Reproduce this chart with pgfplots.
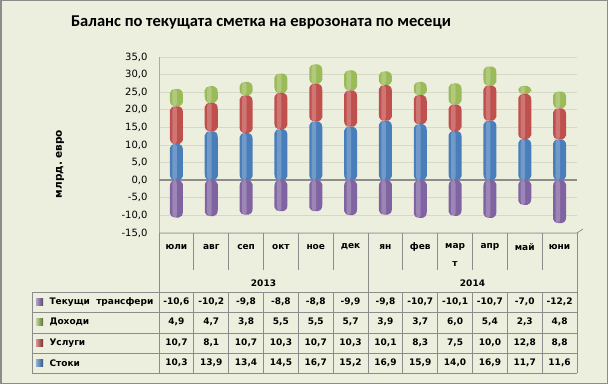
\documentclass[border=0pt]{standalone}
\usepackage{pgfplots}
\usepackage{pgfplotstable}
\pgfplotsset{compat=1.18}
\usepackage{fontspec}
\setmainfont{DejaVu Sans}
\newfontfamily\titlefont{Carlito}
\frenchspacing
\definecolor{bg}{RGB}{236,239,222}
\definecolor{gridc}{RGB}{214,216,200}
\definecolor{linec}{RGB}{140,140,140}
\definecolor{cB}{RGB}{74,126,187}
\definecolor{cR}{RGB}{192,80,77}
\definecolor{cG}{RGB}{155,187,89}
\definecolor{cP}{RGB}{128,100,162}
\pgfplotstableread{
x S U D T
0 10.3 10.7 4.9 -10.6
1 13.9 8.1 4.7 -10.2
2 13.4 10.7 3.8 -9.8
3 14.5 10.3 5.5 -8.8
4 16.7 10.7 5.5 -8.8
5 15.2 10.3 5.7 -9.9
6 16.9 10.1 3.9 -9.8
7 15.9 8.3 3.7 -10.7
8 14.0 7.5 6.0 -10.1
9 16.9 10.0 5.4 -10.7
10 11.7 12.8 2.3 -7.0
11 11.6 8.8 4.8 -12.2
}\data
\makeatletter
\newdimen\rcX \newdimen\rcY \newdimen\rcW \newdimen\rcH
\def\rcRx{0pt}\def\rcRy{0pt}
\def\pgfpathrectangle#1#2{%
  \pgf@process{#2}\rcW=\pgf@x\relax \rcH=\pgf@y\relax
  \pgf@process{#1}\rcX=\pgf@x\relax \rcY=\pgf@y\relax
  \let\rc@saved\pgf@corner@arc
  \ifdim\rcRx>0pt \pgfsetcornersarced{\pgfqpoint{\rcRx}{\rcRy}}\fi
  \pgfpathmoveto{\pgfqpoint{\dimexpr\rcX+0.5\rcW\relax}{\rcY}}%
  \pgfpathlineto{\pgfqpoint{\dimexpr\rcX+\rcW\relax}{\rcY}}%
  \pgfpathlineto{\pgfqpoint{\dimexpr\rcX+\rcW\relax}{\dimexpr\rcY+\rcH\relax}}%
  \pgfpathlineto{\pgfqpoint{\rcX}{\dimexpr\rcY+\rcH\relax}}%
  \pgfpathlineto{\pgfqpoint{\rcX}{\rcY}}%
  \pgfpathclose
  \let\pgf@corner@arc\rc@saved}
\newdimen\rcXb \newdimen\rcYb
\def\pgfpathrectanglecorners#1#2{%
  \pgf@process{#2}\rcXb=\pgf@x\relax \rcYb=\pgf@y\relax
  \pgf@process{#1}%
  \advance\rcXb by -\pgf@x \advance\rcYb by -\pgf@y
  \edef\rc@tmp{\noexpand\pgfpathrectangle{\noexpand\pgfqpoint{\the\pgf@x}{\the\pgf@y}}{\noexpand\pgfqpoint{\the\rcXb}{\the\rcYb}}}%
  \rc@tmp}
\makeatother
\pgfplotsset{
  base/.style={at={(159pt,151pt)}, anchor=south west, scale only axis,
    width=418pt, height=176pt, xmin=-0.5, xmax=11.5, ymin=-15, ymax=35,
    clip=false},
}
\begin{document}
\begin{tikzpicture}[x=1pt,y=1pt]
\fill[bg] (0,0) rectangle (608,384);
\draw[linec, line width=1.5pt] (0.75,0.75) rectangle (607.25,383.25);
\node[font=\titlefont\bfseries\fontsize{16.5}{18}\selectfont] at (261,362) {Баланс по текущата сметка на еврозоната по месеци};
\begin{axis}[base,
  axis x line=none, axis y line*=left,
  axis line style={gridc!80!black},
  ytick={-15,-10,...,35}, ymajorgrids, grid style={gridc, line width=0.8pt},
  major tick length=0pt,
  yticklabel style={font=\fontsize{10}{12}\selectfont, xshift=-8pt,
    /pgf/number format/.cd, fixed, fixed zerofill, precision=1, use comma, assume math mode=true},
  extra y ticks={0}, extra y tick labels={},
  extra y tick style={grid style={linec, line width=1.6pt}},
  ylabel={млрд. евро},
  every axis y label/.style={at={(axis description cs:-0.237,0.392)}, rotate=90, anchor=center, font=\bfseries\fontsize{10.5}{12}\selectfont},
  ybar stacked, bar width=13pt,
]
\gdef\rcRx{6pt}\gdef\rcRy{4pt}
\addplot[draw=none, fill=cB] table[x=x, y=S] {\data};
\addplot[draw=none, fill=cR] table[x=x, y=U] {\data};
\addplot[draw=none, fill=cG] table[x=x, y=D] {\data};
\end{axis}
\begin{axis}[base, hide axis, ybar, bar width=13pt, bar shift=0pt]
\addplot[draw=none, fill=cP] table[x=x, y=T] {\data};
\end{axis}
% highlights giving the rounded bars a cylinder look
\gdef\rcRx{2.5pt}\gdef\rcRy{3.5pt}
\begin{axis}[base, hide axis, ybar stacked, bar width=4.5pt, bar shift=-1.8pt]
\addplot[draw=none, fill=white, fill opacity=0.22] table[x=x, y=S] {\data};
\addplot[draw=none, fill=white, fill opacity=0.22] table[x=x, y=U] {\data};
\addplot[draw=none, fill=white, fill opacity=0.22] table[x=x, y=D] {\data};
\end{axis}
\begin{axis}[base, hide axis, ybar, bar width=4.5pt, bar shift=-1.8pt]
\addplot[draw=none, fill=white, fill opacity=0.22] table[x=x, y=T] {\data};
\end{axis}
\gdef\rcRx{0pt}\gdef\rcRy{0pt}
% data table
\begin{scope}[linec, line width=0.8pt]
\draw (159,151) -- (577,151) -- (583,155);
\draw (159,151) -- (159,11);
\draw (577,151) -- (577,11);
\draw (32,92) -- (32,11);
\foreach \yy in {92,72,51,31,11} \draw (32,\yy) -- (577,\yy);
\foreach \i in {1,...,11} {
  \draw ({159+\i*34.8333},151) -- ({159+\i*34.8333},114);
  \draw ({159+\i*34.8333},92) -- ({159+\i*34.8333},11);
}
\draw ({159+6*34.8333},114) -- ({159+6*34.8333},92);
\end{scope}
\begin{scope}[font=\bfseries\fontsize{9}{11}\selectfont, text=black]
\foreach \m [count=\i from 0] in {юли,авг,сеп,окт,ное,дек,ян,фев,мар,апр,май,юни}
  \node at ({159+(\i+0.5)*34.8333},137) {\m};
\node at ({159+8.5*34.8333},120) {т};
\node at ({159+3*34.8333},101) {2013};
\node at ({159+9*34.8333},101) {2014};
\foreach \v [count=\i from 0] in {{-10,6},{-10,2},{-9,8},{-8,8},{-8,8},{-9,9},{-9,8},{-10,7},{-10,1},{-10,7},{-7,0},{-12,2}}
  \node at ({159+(\i+0.5)*34.8333},82) {\v};
\foreach \v [count=\i from 0] in {{4,9},{4,7},{3,8},{5,5},{5,5},{5,7},{3,9},{3,7},{6,0},{5,4},{2,3},{4,8}}
  \node at ({159+(\i+0.5)*34.8333},62) {\v};
\foreach \v [count=\i from 0] in {{10,7},{8,1},{10,7},{10,3},{10,7},{10,3},{10,1},{8,3},{7,5},{10,0},{12,8},{8,8}}
  \node at ({159+(\i+0.5)*34.8333},41) {\v};
\foreach \v [count=\i from 0] in {{10,3},{13,9},{13,4},{14,5},{16,7},{15,2},{16,9},{15,9},{14,0},{16,9},{11,7},{11,6}}
  \node at ({159+(\i+0.5)*34.8333},21) {\v};
\node[anchor=west] at (46,82) {Текущи\ \ трансфери};
\node[anchor=west] at (46,62) {Доходи};
\node[anchor=west] at (46,41) {Услуги};
\node[anchor=west] at (46,21) {Стоки};
\end{scope}
\fill[cP, left color=cP!60!white, right color=cP!70!black] (36,78.5) rectangle (43,85.5);
\fill[cG, left color=cG!60!white, right color=cG!60!black] (36,58.5) rectangle (43,65.5);
\fill[cR, left color=cR!60!white, right color=cR!60!black] (36,37.5) rectangle (43,44.5);
\fill[cB, left color=cB!60!white, right color=cB!70!black] (36,17.5) rectangle (43,24.5);
\end{tikzpicture}
\end{document}
